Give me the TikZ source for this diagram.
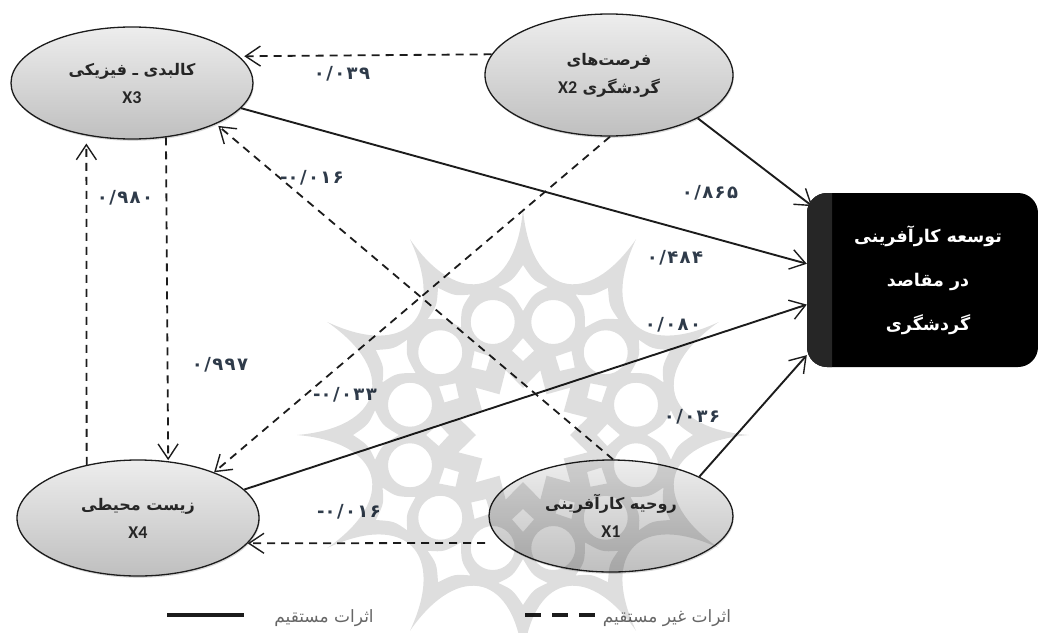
\documentclass[tikz,border=0pt]{standalone}
\usepackage{fontspec}
\usetikzlibrary{arrows.meta,shapes.geometric,shadows}
\TeXXeTstate=1
\newfontfamily\arfont[Script=Arabic]{DejaVu Sans}
\newfontfamily\numfont[Script=Arabic,LetterSpace=8]{DejaVu Sans}
\newfontfamily\latfont{Carlito}
\newcommand{\ar}[1]{\beginR #1\endR}
\newcommand{\xl}[1]{{\latfont\bfseries\fontsize{18}{18}\selectfont #1}}
\newcommand{\mns}{\hbox{-}}
\definecolor{lab}{HTML}{2F3B4A}
\definecolor{band}{HTML}{262626}
\definecolor{ink}{HTML}{1C1C1C}
\tikzset{
  latent/.style={ellipse,draw=ink,line width=1.3pt,top color=black!7,bottom color=black!25,
    drop shadow={shadow xshift=0.8pt,shadow yshift=-1.8pt,opacity=.3},
    inner sep=0pt,align=center,text=black!85,
    font=\arfont\bfseries\fontsize{16}{28}\selectfont},
  goalbox/.style={rectangle,rounded corners=20pt,fill=black,text=white,minimum width=231pt,minimum height=174pt,
    inner sep=0pt,align=center,font=\arfont\bfseries\fontsize{17.5}{44}\selectfont},
  direct/.style={draw=ink,line width=1.9pt,-{Straight Barb[length=15pt,width=20pt,line width=1.4pt]}},
  indirect/.style={draw=ink,line width=1.8pt,dash pattern=on 8pt off 6pt,-{Straight Barb[length=15pt,width=20pt,line width=1.4pt]}},
  coef/.style={text=lab,inner sep=0pt,font=\numfont\bfseries\fontsize{18}{18}\selectfont},
  legendtext/.style={text=black!60,inner sep=0pt,font=\arfont\fontsize{17}{18}\selectfont},
  stain/.style={fill=black,fill opacity=.13,even odd rule}
}
\begin{document}
\begin{tikzpicture}[x=1pt,y=-1pt]
\useasboundingbox (0,0) rectangle (1038,632);
\node[latent,minimum width=242pt,minimum height=112pt] (x3) at (132,83) {\ar{کالبدی ـ فیزیکی}\\\xl{X3}};
\node[latent,minimum width=248pt,minimum height=122pt] (x2) at (609,75) {\ar{فرصت‌های}\\\ar{گردشگری \beginL\xl{X2}\endL}};
\node[latent,minimum width=242pt,minimum height=116pt] (x4) at (138,518) {\ar{زیست محیطی}\\\xl{X4}};
\node[latent,minimum width=244pt,minimum height=112pt] (x1) at (611,516) {\ar{روحیه کارآفرینی}\\\xl{X1}};
\node[goalbox] (goal) at (922.5,280) {\hspace*{11pt}\ar{توسعه کارآفرینی}\\\hspace*{11pt}\ar{در مقاصد}\\\hspace*{11pt}\ar{گردشگری}};
% connectors
\draw[direct,shorten >=-7pt] (x2.-26.8) -- (goal.146);
\draw[direct] (x3.-13.3) -- (goal.172.1);
\draw[direct] (x4.15.9) -- (goal.192.2);
\draw[direct] (x1.24.4) -- (goal.213.8);
\draw[indirect,shorten >=5pt] (x2.170) -- (x3.14);
\draw[indirect] (x2.-89) -- (x4.31.5);
\draw[indirect,shorten >=3pt] (x1.88) -- (x3.-26);
\draw[indirect,shorten >=1pt] (x3.-58.5) -- (x4.62.5);
\draw[indirect,shorten >=8pt] (x4.134) -- (x3.229);
\draw[indirect,shorten <=18pt] (x1.194.8) -- (x4.-13.4);
% dark band of the box
\fill[band] (832,193) [rounded corners=20pt] -- (807,193) -- (807,367) [sharp corners] -- (832,367) -- cycle;
% coefficients
\node[coef] (c1) at (342,74) {۰/۰۳۹};
\node[coef] (c2) at (312,178) {\mns ۰/۰۱۶};
\node[coef] (c3) at (125,198) {۰/۹۸۰};
\node[coef] (c4) at (710,193) {۰/۸۶۵};
\node[coef] (c5) at (675,258) {۰/۴۸۴};
\node[coef] (c6) at (673,325) {۰/۰۸۰};
\node[coef] (c7) at (220,365) {۰/۹۹۷};
\node[coef] (c8) at (345,395) {\mns ۰/۰۳۳};
\node[coef] (c9) at (692,417) {۰/۰۳۶};
\node[coef] (c10) at (349,512) {\mns ۰/۰۱۶};
% legend
\coordinate (l1) at (167,615); \coordinate (l2) at (244,615);
\coordinate (l3) at (525,615); \coordinate (l4) at (595,615);
\draw[draw=ink,line width=3.2pt] (l1) -- (l2);
\draw[draw=ink,line width=3.2pt,dash pattern=on 16pt off 11pt] (l3) -- (l4);
\node[legendtext] (t1) at (324,618) {\ar{اثرات مستقیم}};
\node[legendtext] (t2) at (667,618) {\ar{اثرات غیر مستقیم}};
% watermark
\begin{scope}[shift={(523,435)}]
\clip (-523,-435) rectangle (515,197);
\fill[stain] (0:226)
  \foreach \a in {0,30,...,330}{ .. controls (\a+3:140) and (\a+27:140) .. (\a+30:226) } -- cycle
  \foreach \a in {0,30,...,330}{
    (\a+15:117) circle[radius=22]
    (\a:170) .. controls (\a+3.8:155) .. (\a+9.5:150) .. controls (\a+4:141) .. (\a:124)
      .. controls (\a-4:141) .. (\a-9.5:150) .. controls (\a-3.8:155) .. (\a:170) -- cycle
    (\a:97) -- (\a+7.5:85) -- (\a:74) -- (\a-7.5:85) -- cycle
  }
  (0:47) \foreach \a in {0,30,...,330}{ -- (\a+15:67) -- (\a+30:47) } -- cycle;
\end{scope}
\end{tikzpicture}
\end{document}
